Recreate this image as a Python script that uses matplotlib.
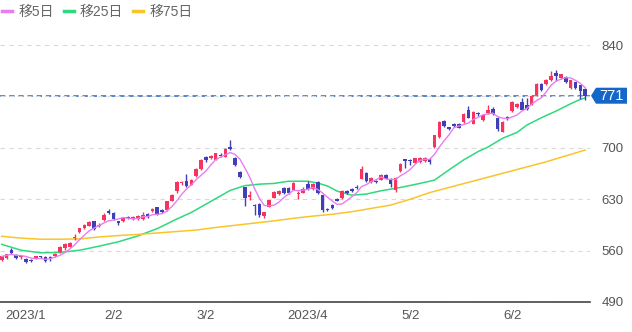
import numpy as np
import pandas as pd
import matplotlib
matplotlib.use("Agg")
import matplotlib.pyplot as plt
from matplotlib.patches import Polygon
from matplotlib.transforms import blended_transform_factory, IdentityTransform

plt.rcParams["font.family"] = ["Liberation Sans", "Noto Sans CJK JP", "DejaVu Sans"]

# =========================
# データ（日足 OHLC）
# =========================
opens = [547, 550, 561, 554.5, 551, 548, 547, 550, 552.5, 551,
         550.5, 552, 558, 563, 565.5, 576.5, 585, 591, 594, 600,
         593, 602, 614, 611, 600, 600, 606, 603, 603, 603,
         609.5, 614, 619.5, 615, 615, 628, 641.5, 651.5, 655, 650,
         661, 671, 687, 686, 683.5, 690.5, 688, 701, 686, 667,
         646, 633, 622, 624, 607, 620, 632, 637, 645.5, 645,
         643, 637, 639, 651, 644, 653.5, 635.5, 617, 622.5, 630,
         631, 641.5, 644.5, 647, 658, 665.5, 653, 655, 656.5, 663.5,
         658, 643, 668, 684.5, 684, 680, 681, 682, 684.5, 701,
         715, 736.5, 728, 733, 733, 735, 752, 733, 748, 738.5,
         747.5, 753, 741, 722, 742, 750, 755.5, 763, 759, 759,
         772, 787, 787.5, 792, 802, 795.5, 797, 782, 789, 785.5,
         780]
highs = [553, 556, 564, 556, 553, 550, 548, 553, 553, 552,
         553, 557, 566, 571, 572, 582, 591, 596, 600, 601,
         597, 611, 616, 612, 601, 606, 607, 607, 608, 613,
         611, 617.5, 620, 616, 628, 637, 655, 655, 665, 657,
         672, 685, 689, 690, 693, 693, 700, 710, 687, 668,
         647, 641, 623, 625, 613, 629, 641, 642, 647, 646,
         653, 641, 646, 654.5, 652, 655, 636, 618, 623, 631,
         642, 643, 645, 649, 675, 667, 660, 656, 665, 664,
         659, 660, 679, 685, 685, 686, 687, 687, 685.5, 718,
         736, 738, 729, 734, 734, 747, 757, 750, 749, 746,
         758, 755.5, 742, 737, 743, 764, 761, 768, 768, 771,
         788, 788, 794, 804, 805.5, 801, 798, 793, 790, 786,
         781]
lows = [546, 549, 556, 548, 548, 543, 545, 549, 550, 545,
        546, 551, 557, 561, 565, 574, 584, 590, 593, 588,
        592, 601, 610, 602, 594.5, 599, 603, 602, 602, 602,
        605, 613, 608, 611, 614, 627, 638, 650, 647, 649,
        660, 670, 681, 685, 683, 688, 687, 697, 675, 659,
        621, 629.5, 608, 606, 605, 619, 631, 636, 637, 637,
        642, 630, 638, 643, 643, 637, 613, 614, 617, 627,
        630, 637, 640, 644, 657, 653, 652, 652, 656, 657,
        646, 640.5, 667, 672.5, 676, 679, 680, 681, 678.5, 700,
        714, 729, 724, 729, 727, 734, 740, 732, 744, 737,
        746, 745, 723, 721, 738, 749, 754, 751, 752, 758,
        771, 778, 786, 791, 791, 794, 788, 780, 780, 766,
        765]
closes = [552, 555.5, 557, 550, 552, 545, 545.5, 552.5, 551, 546.5,
          550, 556, 564.5, 569, 571, 579, 590.5, 595.5, 599, 589.5,
          595.5, 608.5, 611, 603, 597.5, 605, 604, 606, 607, 608.5,
          606, 617, 608.5, 612, 627, 636, 654, 654, 648, 656,
          671.5, 683.5, 683, 689, 692.5, 689.5, 699, 698, 676, 660,
          631, 636, 620.5, 608, 612, 628.5, 640.5, 641, 638, 638.5,
          652, 639, 644.5, 644, 651, 638, 615, 615.5, 618, 628,
          641.5, 638, 641, 645, 671, 654.5, 659, 653, 663.5, 658,
          651, 659, 678, 682, 682.5, 685.5, 686, 686, 681, 717,
          735, 730, 725.5, 730, 727.5, 745.5, 741, 749, 745.5, 744.5,
          751, 746.5, 725, 735.5, 740.5, 763, 760, 752, 753, 770,
          787, 779, 793, 798, 797.5, 800, 789, 792, 781, 777,
          771]

# 移動平均（25日・75日は表示範囲外のデータを含むので図から読み取り）
ma25_idx = [0, 4, 8, 12, 16, 20, 24, 28, 32, 36, 39, 43, 47, 50, 53, 56, 59, 63,
            65, 67, 69, 72, 75, 78, 82, 86, 89, 92, 95, 98, 100, 103, 106, 108,
            111, 114, 117, 119, 120]
ma25_val = [568.5, 560.5, 557, 557.5, 560.5, 566, 572, 580, 590, 603, 612, 627, 642,
            648.5, 650.5, 651.5, 654.5, 654.5, 652, 648, 641, 635.5, 637, 641.5,
            646, 651.5, 656, 670, 683.5, 695, 701, 713, 721, 731, 741, 750, 760,
            766, 768]
ma75_idx = [0, 4, 8, 12, 16, 20, 24, 28, 32, 36, 40, 44, 48, 52, 56, 60, 64, 68,
            72, 76, 80, 84, 88, 92, 96, 100, 104, 108, 112, 116, 120]
ma75_val = [579.5, 577, 575.5, 575.5, 576, 578.5, 580.5, 582, 584, 586, 588, 591.5,
            594.5, 597.5, 600.5, 604, 607, 609.5, 613, 617.5, 622, 630, 639, 646,
            653, 660, 667, 674, 681, 689, 697]

last_price = 771
y_ticks = [490, 560, 630, 700, 770, 840]
y_ticklabels = ["490", "560", "630", "700", "", "840"]
x_ticks = [5, 23, 42, 63, 84, 105]
x_ticklabels = ["2023/1", "2/2", "3/2", "2023/4", "5/2", "6/2"]

# 色
UP = "#f5345f"
DOWN = "#3f3fb8"
C_MA5 = "#e77ef0"
C_MA25 = "#2fd97d"
C_MA75 = "#f9c52a"
C_TAG = "#1467c8"

# =========================
# 描画
# =========================
fig = plt.figure(figsize=(6.32, 3.32), dpi=100)
ax = fig.add_axes([0, 0.0904, 0.934, 0.819])

o = np.array(opens)
h = np.array(highs)
l = np.array(lows)
c = np.array(closes)
x = np.arange(len(c))
up = c >= o
cols = np.where(up, UP, DOWN)

ax.vlines(x, l, h, colors=cols, lw=1, zorder=3)
body_h = np.maximum(np.abs(c - o), 1.0)
ax.bar(x, body_h, bottom=np.minimum(o, c), width=0.74, color=cols, zorder=4, linewidth=0)

ma5 = pd.Series(closes).rolling(5, min_periods=1).mean()
l5, = ax.plot(x, ma5, color=C_MA5, lw=1, zorder=5, label="移5日")
l25, = ax.plot(ma25_idx, ma25_val, color=C_MA25, lw=1.1, zorder=2, label="移25日")
l75, = ax.plot(ma75_idx, ma75_val, color=C_MA75, lw=1.1, zorder=2, label="移75日")

ax.axhline(last_price, color="#2a66c4", ls=(0, (3.5, 2.5)), lw=1.1, zorder=1)

ax.set_xlim(-0.35, 121.05)
ax.set_ylim(490, 860.4)
ax.set_yticks(y_ticks, y_ticklabels)
ax.set_xticks(x_ticks, x_ticklabels)
ax.yaxis.tick_right()
ax.tick_params(axis="y", length=0, pad=8, labelsize=9.5, labelcolor="#555555")
ax.tick_params(axis="x", length=0, pad=6, labelsize=9.5, labelcolor="#555555")
ax.grid(axis="y", ls=(0, (4, 4)), color="#d9d9d9", lw=0.8, zorder=0)
for s in ["top", "right", "left"]:
    ax.spines[s].set_visible(False)
ax.spines["bottom"].set_color("#444444")
ax.spines["bottom"].set_linewidth(1.2)

# 現在値タグ（ピクセル座標で描く）
fig.canvas.draw()
yp = ax.transData.transform((0, last_price))[1]
tag = Polygon([[591, yp], [596, yp + 8], [627, yp + 8], [627, yp - 8], [596, yp - 8]],
              closed=True, transform=IdentityTransform(), facecolor=C_TAG, edgecolor="none",
              zorder=10, clip_on=False)
ax.add_artist(tag)
trans = blended_transform_factory(ax.transAxes, ax.transData)
ax.text(611.5 / 590.3, last_price, str(last_price), transform=trans, ha="center", va="center",
        color="white", fontsize=10.5, zorder=11, clip_on=False)

leg = fig.legend(handles=[l5, l25, l75], loc="upper left", bbox_to_anchor=(0.003, 0.984), ncol=3,
                 frameon=False, borderpad=0, borderaxespad=0, handlelength=0.72,
                 handletextpad=0.45, columnspacing=0.72, fontsize=10, labelcolor="#666666")
for ln in leg.get_lines():
    ln.set_linewidth(2.5)

fig.savefig("out.png", dpi=100)
